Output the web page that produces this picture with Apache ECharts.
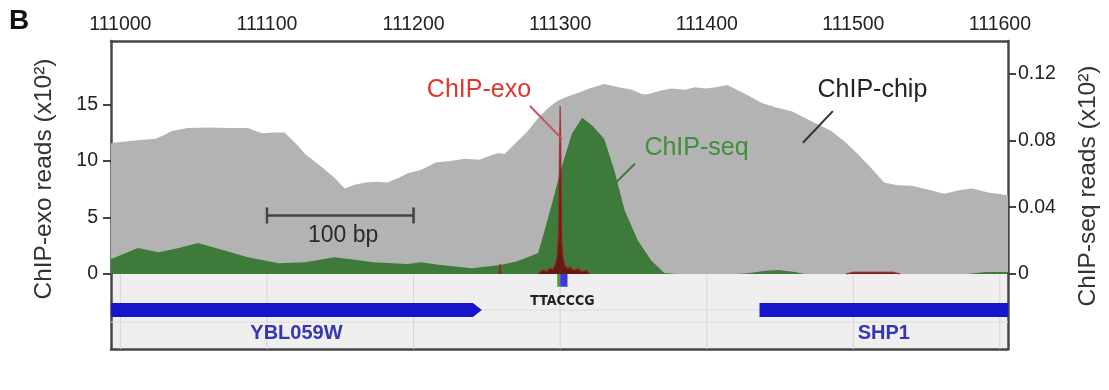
<!DOCTYPE html>
<html><head><meta charset="utf-8">
<script src="https://cdn.jsdelivr.net/npm/echarts@6/dist/echarts.min.js"></script>
<style>html,body{margin:0;padding:0;background:#fff}#c{width:1109px;height:390px}</style>
</head><body><div id="c"></div><script>
// ---------- data ----------
const positionTicks = [111000, 111100, 111200, 111300, 111400, 111500, 111600];
const exoTicks = [0, 5, 10, 15];
const seqTicks = [0, 0.04, 0.08, 0.12];

// ChIP-chip (grey), in ChIP-exo axis units
const chipPos = [110993,110995,111010,111024,111030,111035,111046,111060,111075,111087,111093,111097,111105,111112,111120,111126,111138,111146,111153,111160,111167,111175,111182,111190,111196,111205,111215,111225,111235,111245,111251,111258,111262,111269,111277,111285,111292,111298,111305,111312,111320,111330,111340,111349,111356,111360,111368,111376,111385,111392,111399,111406,111414,111425,111438,111448,111458,111470,111485,111495,111503,111512,111521,111530,111540,111550,111562,111572,111581,111592,111606];
const chipVal = [11.5,11.6,11.8,11.95,12.3,12.65,12.9,12.95,12.9,12.9,12.6,12.45,12.5,12.5,11.5,10.6,9.4,8.5,7.55,7.9,8.1,8.15,8.1,8.5,8.9,9.2,9.85,10.0,10.2,10.1,10.4,10.7,10.6,11.5,12.5,13.8,14.7,15.3,15.7,16.0,16.4,16.8,16.5,16.3,15.9,15.9,16.2,16.4,16.3,16.5,16.4,16.5,16.7,16.0,15.1,14.7,14.4,13.6,12.65,11.6,10.6,9.4,8.1,7.85,7.8,7.5,7.1,7.4,7.55,7.2,6.95];

// ChIP-seq (green), right axis units
const seqPos = [110993,110995,111012,111026,111040,111053,111065,111087,111108,111126,111146,111160,111172,111196,111205,111217,111240,111260,111270,111278,111285,111290,111295,111301,111308,111315,111322,111330,111337,111344,111353,111362,111371,111380,111420,111428,111440,111449,111460,111467,111578,111590,111606];
const seqVal = [0.009,0.0095,0.0155,0.013,0.0155,0.0185,0.0155,0.010,0.0065,0.007,0.010,0.0085,0.007,0.006,0.007,0.0055,0.0035,0.0055,0.0075,0.010,0.0125,0.028,0.044,0.064,0.084,0.0935,0.0887,0.081,0.062,0.038,0.020,0.0083,0.0006,0,0,0.0005,0.002,0.0024,0.0012,0,0,0.0012,0.0012];

// ChIP-exo (dark red), left axis units; '-' marks a gap
const exoPos = [111258.5,111259,111259.5,111270,111285,111288,111291,111293,111295,111297,111298,111299,111300,111301,111302,111303,111305,111307,111309,111312,111315,111318,111320,111400,111495,111500,111527,111532];
const exoVal = [0,0.9,0,'-',0,0.35,0.2,0.5,0.4,0.9,1.6,3.5,14.85,3.0,1.4,0.8,0.5,0.6,0.3,0.45,0.2,0.3,0,'-',0,0.15,0.15,0];

const genes = [
  {name: 'YBL059W', start: 110900, end: 111246.6},
  {name: 'SHP1', start: 111436, end: 111700}
];
const motif = {seq: 'TTACCCG', start: 111298, end: 111305};

// annotations (data coordinates)
const annText = [
  {text: 'ChIP-exo', x: 111244.6, y: 16.3},
  {text: 'ChIP-seq', x: 111393, y: 11.1},
  {text: 'ChIP-chip', x: 111513, y: 16.3}
];
const annLeaders = [
  [111279.4, 14.85, 111301.2, 11.95],
  [111351, 9.75, 111330.5, 7.12],
  [111486, 14.4, 111465.6, 11.6]
];
const scaleBar = {start: 111100, end: 111200, y: 5.18, label: '100 bp', labelX: 111152, labelY: 3.4};

// ---------- chart ----------
const FONT = "'Liberation Sans', Arial, Helvetica, sans-serif";
const X_MIN = 110993.6, X_MAX = 111605.5;
const EXO_MAX = 20.6, SEQ_MAX = 0.1395;
const FRAME = {color: '#464646', width: 2.5};
const annColors = ['#e0362c', '#3f8f3c', '#222222'];
const leaderColors = ['#c4565e', '#3b7d36', '#333333'];

const chart = echarts.init(document.getElementById('c'));
chart.setOption({
  animation: false,
  backgroundColor: '#fff',
  grid: [
    {left: 111, right: 101, top: 41, height: 233},
    {left: 111, right: 101, top: 274, height: 75, show: true, backgroundColor: '#efefef', borderWidth: 0}
  ],
  xAxis: [
    {gridIndex: 0, type: 'value', position: 'top', min: X_MIN, max: X_MAX,
     axisLine: {show: true, onZero: false, lineStyle: FRAME}, axisTick: {show: false}, splitLine: {show: false},
     axisLabel: {customValues: positionTicks, fontFamily: FONT, fontSize: 19.5, color: '#222', margin: 6, formatter: v => String(v)}},
    {gridIndex: 1, type: 'value', position: 'bottom', min: X_MIN, max: X_MAX,
     axisLine: {show: true, onZero: false, lineStyle: FRAME}, axisTick: {show: false}, axisLabel: {show: false}, splitLine: {show: false}}
  ],
  yAxis: [
    {gridIndex: 0, type: 'value', position: 'left', min: 0, max: EXO_MAX,
     axisLine: {show: true, onZero: false, lineStyle: FRAME}, splitLine: {show: false},
     axisTick: {show: true, customValues: exoTicks, length: 8, lineStyle: {color: '#444', width: 2}},
     axisLabel: {customValues: exoTicks, fontFamily: FONT, fontSize: 19.5, color: '#222', margin: 13}},
    {gridIndex: 0, type: 'value', position: 'right', min: 0, max: SEQ_MAX,
     axisLine: {show: true, onZero: false, lineStyle: FRAME}, splitLine: {show: false},
     axisTick: {show: true, customValues: seqTicks, length: 8, lineStyle: {color: '#444', width: 2}},
     axisLabel: {customValues: seqTicks, fontFamily: FONT, fontSize: 19.5, color: '#222', margin: 10,
                 formatter: v => v === 0 ? '0' : v.toFixed(2)}},
    {gridIndex: 1, type: 'value', position: 'left', min: 0, max: 1, inverse: true,
     axisLine: {show: true, onZero: false, lineStyle: FRAME}, axisTick: {show: false}, axisLabel: {show: false}, splitLine: {show: false}},
    {gridIndex: 1, type: 'value', position: 'right', min: 0, max: 1, inverse: true,
     axisLine: {show: true, onZero: false, lineStyle: FRAME}, axisTick: {show: false}, axisLabel: {show: false}, splitLine: {show: false}}
  ],
  series: [
    {name: 'ChIP-chip', type: 'line', xAxisIndex: 0, yAxisIndex: 0, showSymbol: false, silent: true,
     data: chipPos.map((x, i) => [x, chipVal[i]]),
     lineStyle: {width: 0}, areaStyle: {color: '#b3b3b3', opacity: 1}},
    {name: 'ChIP-seq', type: 'line', xAxisIndex: 0, yAxisIndex: 1, showSymbol: false, silent: true,
     data: seqPos.map((x, i) => [x, seqVal[i]]),
     lineStyle: {width: 0}, areaStyle: {color: '#3e7a3a', opacity: 1}},
    {name: 'ChIP-exo', type: 'line', xAxisIndex: 0, yAxisIndex: 0, showSymbol: false, silent: true, connectNulls: false,
     data: exoPos.map((x, i) => [x, exoVal[i]]),
     lineStyle: {width: 1.6, color: 'rgba(165,25,35,0.65)'}, areaStyle: {color: 'rgba(110,8,12,0.85)', opacity: 1}},
    // annotations: scale bar, leader lines, labels
    {type: 'custom', xAxisIndex: 0, yAxisIndex: 0, silent: true, z: 5,
     data: [[scaleBar.start, scaleBar.y]],
     renderItem: (p, api) => {
       const a = api.coord([scaleBar.start, scaleBar.y]);
       const b = api.coord([scaleBar.end, scaleBar.y]);
       const l = api.coord([scaleBar.labelX, scaleBar.labelY]);
       const st = {stroke: '#444', lineWidth: 2.5};
       return {type: 'group', children: [
         {type: 'line', shape: {x1: a[0], y1: a[1], x2: b[0], y2: b[1]}, style: st},
         {type: 'line', shape: {x1: a[0], y1: a[1] - 8, x2: a[0], y2: a[1] + 8}, style: st},
         {type: 'line', shape: {x1: b[0], y1: b[1] - 8, x2: b[0], y2: b[1] + 8}, style: st},
         {type: 'text', x: l[0], y: l[1], style: {text: scaleBar.label, font: '23px ' + FONT, fill: '#2a2a2a', align: 'center', verticalAlign: 'middle'}}
       ]};
     }},
    {type: 'custom', xAxisIndex: 0, yAxisIndex: 0, silent: true, z: 5,
     data: annLeaders.map(d => [d[0], d[1], d[2], d[3]]),
     renderItem: (p, api) => {
       const a = api.coord([api.value(0), api.value(1)]);
       const b = api.coord([api.value(2), api.value(3)]);
       return {type: 'line', shape: {x1: a[0], y1: a[1], x2: b[0], y2: b[1]}, style: {stroke: leaderColors[p.dataIndex], lineWidth: 2}};
     }},
    {type: 'custom', xAxisIndex: 0, yAxisIndex: 0, silent: true, z: 5,
     data: annText.map(d => [d.x, d.y]),
     renderItem: (p, api) => {
       const c = api.coord([api.value(0), api.value(1)]);
       return {type: 'text', x: c[0], y: c[1], style: {text: annText[p.dataIndex].text, font: '25px ' + FONT, fill: annColors[p.dataIndex], align: 'center', verticalAlign: 'middle'}};
     }},
    // gene track grid lines
    {type: 'custom', xAxisIndex: 1, yAxisIndex: 2, silent: true, z: 1,
     data: positionTicks.map(v => [v]),
     renderItem: (p, api) => {
       const t = api.coord([api.value(0), 0]);
       const b = api.coord([api.value(0), 1]);
       const cs = p.coordSys;
       const kids = [{type: 'line', shape: {x1: t[0], y1: t[1], x2: b[0], y2: b[1]}, style: {stroke: '#d6d6d6', lineWidth: 1}}];
       if (p.dataIndex === 0) {
         [0.48, 0.64].forEach(r => {
           const y = api.coord([X_MIN, r])[1];
           kids.push({type: 'line', shape: {x1: cs.x, y1: y, x2: cs.x + cs.width, y2: y}, style: {stroke: '#dcdcdc', lineWidth: 1}});
         });
       }
       return {type: 'group', children: kids};
     }},
    // genes
    {type: 'custom', xAxisIndex: 1, yAxisIndex: 2, silent: true, clip: true, z: 3,
     data: genes.map(g => [g.start, g.end]),
     renderItem: (p, api) => {
       const g = genes[p.dataIndex];
       const a = api.coord([g.start, 0.387]);
       const b = api.coord([g.end, 0.573]);
       const yMid = (a[1] + b[1]) / 2;
       const tip = 9;
       const cs = p.coordSys;
       const v0 = Math.max(a[0], cs.x), v1 = Math.min(b[0], cs.x + cs.width);
       const ly = api.coord([X_MIN, 0.79])[1];
       return {type: 'group', children: [
         {type: 'polygon', shape: {points: [[a[0], a[1]], [b[0] - tip, a[1]], [b[0], yMid], [b[0] - tip, b[1]], [a[0], b[1]]]}, style: {fill: '#1515cc'}},
         {type: 'text', x: (v0 + v1) / 2, y: ly, style: {text: g.name, font: 'bold 20px ' + FONT, fill: '#3636b4', align: 'center', verticalAlign: 'middle'}}
       ]};
     }},
    // motif
    {type: 'custom', xAxisIndex: 1, yAxisIndex: 2, silent: true, z: 4,
     data: [[motif.start, motif.end]],
     renderItem: (p, api) => {
       const a = api.coord([motif.start, 0.0]);
       const m = api.coord([motif.start + 2, 0.0]);
       const b = api.coord([motif.end, 0.17]);
       const t = api.coord([(motif.start + motif.end) / 2, 0.36]);
       return {type: 'group', children: [
         {type: 'rect', shape: {x: a[0], y: a[1], width: m[0] - a[0], height: b[1] - a[1]}, style: {fill: '#4f9a3a'}},
         {type: 'rect', shape: {x: m[0], y: a[1], width: b[0] - m[0], height: b[1] - a[1]}, style: {fill: '#3a3ae0'}},
         {type: 'text', x: t[0], y: t[1], style: {text: motif.seq, font: "bold 14px 'Liberation Sans Narrow', 'DejaVu Sans Condensed', " + FONT, fill: '#222', align: 'center', verticalAlign: 'middle'}}
       ]};
     }}
  ],
  graphic: [
    {type: 'text', left: 9, top: 7, style: {text: 'B', font: 'bold 28px ' + FONT, fill: '#111'}},
    {type: 'text', x: 44, y: 179, rotation: Math.PI / 2, style: {text: 'ChIP-exo reads (x10²)', font: '24.5px ' + FONT, fill: '#333', align: 'center', verticalAlign: 'middle'}},
    {type: 'text', x: 1088, y: 186, rotation: Math.PI / 2, style: {text: 'ChIP-seq reads (x10²)', font: '24.5px ' + FONT, fill: '#333', align: 'center', verticalAlign: 'middle'}}
  ]
});
</script></body></html>
